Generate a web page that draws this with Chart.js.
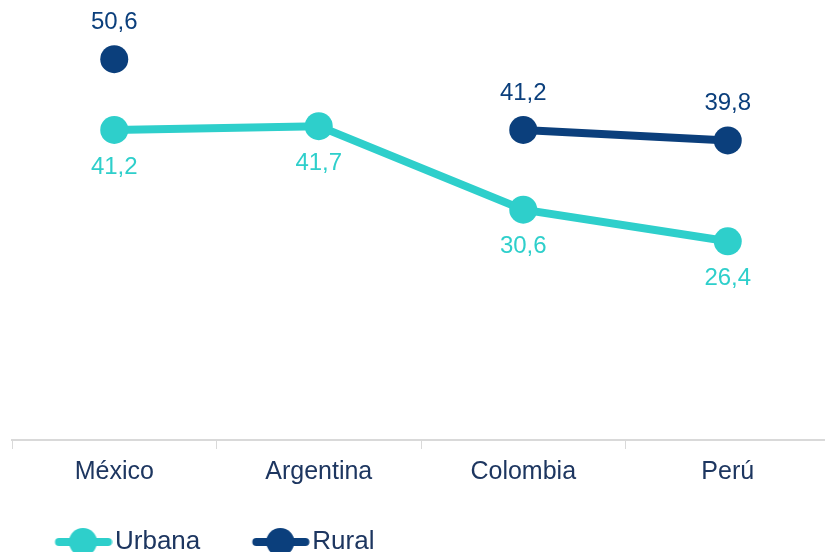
<!DOCTYPE html>
<html>
<head>
<meta charset="utf-8">
<script src="https://cdn.jsdelivr.net/npm/chart.js@4"></script>
<style>
  html, body { margin: 0; padding: 0; background: #fff; overflow: hidden; }
  canvas { display: block; }
</style>
</head>
<body>
<canvas id="grafico" width="830" height="565"></canvas>
<script>
const paises = ['México', 'Argentina', 'Colombia', 'Perú'];
const urbana = [41.2, 41.7, 30.6, 26.4];
const rural = [50.6, null, 41.2, 39.8];

const colUrbana = '#2ecfcb';
const colRural = '#0b3f7c';
const colTexto = '#1d3660';

// legend marker: line with a dot, shifted right inside the image
function marcador(color) {
  const c = document.createElement('canvas');
  c.width = 78;
  c.height = 30;
  const ctx = c.getContext('2d');
  ctx.strokeStyle = color;
  ctx.lineWidth = 8;
  ctx.lineCap = 'round';
  ctx.beginPath();
  ctx.moveTo(24.5, 15);
  ctx.lineTo(73.5, 15);
  ctx.stroke();
  ctx.fillStyle = color;
  ctx.beginPath();
  ctx.arc(48.5, 15, 14, 0, Math.PI * 2);
  ctx.fill();
  return c;
}

// value labels: Rural above the point, Urbana below
const etiquetas = {
  id: 'etiquetas',
  afterDatasetsDraw(chart) {
    const ctx = chart.ctx;
    ctx.save();
    ctx.font = '24px "Liberation Sans", Arial, sans-serif';
    ctx.textAlign = 'center';
    ctx.textBaseline = 'middle';
    chart.data.datasets.forEach((ds, i) => {
      const meta = chart.getDatasetMeta(i);
      meta.data.forEach((pt, j) => {
        const v = ds.data[j];
        if (v === null || v === undefined) return;
        const dy = ds.label === 'Rural' ? -37 : 37;
        ctx.fillStyle = ds.borderColor;
        ctx.fillText(v.toFixed(1).replace('.', ','), pt.x, pt.y + dy);
      });
    });
    ctx.restore();
  }
};

const datos = {
  labels: paises,
  datasets: [
    {
      label: 'Urbana',
      data: urbana,
      borderColor: colUrbana,
      backgroundColor: colUrbana,
      borderWidth: 8,
      pointRadius: 14,
      pointHoverRadius: 14,
      pointBorderWidth: 0,
      pointStyle: 'circle',
      tension: 0,
      clip: false
    },
    {
      label: 'Rural',
      data: rural,
      borderColor: colRural,
      backgroundColor: colRural,
      borderWidth: 8,
      pointRadius: 14,
      pointHoverRadius: 14,
      pointBorderWidth: 0,
      pointStyle: 'circle',
      tension: 0,
      spanGaps: false,
      clip: false
    }
  ]
};

const config = {
  type: 'line',
  data: datos,
  plugins: [etiquetas],
  options: {
    responsive: false,
    animation: false,
    devicePixelRatio: 1,
    layout: { autoPadding: false, padding: { top: 11, left: 3, right: 0, bottom: 0 } },
    scales: {
      x: {
        offset: true,
        grid: {
          offset: true,
          drawOnChartArea: false,
          drawTicks: true,
          tickLength: 9,
          color: '#d9d9d9',
          lineWidth: 1
        },
        border: { color: '#d9d9d9', width: 2 },
        ticks: {
          color: colTexto,
          padding: 8,
          font: { family: '"Liberation Sans", Arial, sans-serif', size: 25 }
        },
        afterFit: s => { s.height = 47; }
      },
      y: {
        min: 0,
        max: 57,
        grid: { display: false },
        border: { display: false },
        ticks: { display: false },
        afterFit: s => { s.width = 9; }
      }
    },
    plugins: {
      legend: {
        position: 'bottom',
        align: 'start',
        labels: {
          usePointStyle: true,
          pointStyleWidth: 57,
          padding: 42,
          color: colTexto,
          font: { family: '"Liberation Sans", Arial, sans-serif', size: 26 },
          generateLabels: chart => chart.data.datasets.map((ds, i) => ({
            text: ds.label,
            pointStyle: marcador(ds.borderColor),
            fillStyle: ds.borderColor,
            strokeStyle: ds.borderColor,
            lineWidth: 0,
            fontColor: colTexto,
            hidden: false,
            datasetIndex: i
          }))
        }
      },
      tooltip: { enabled: false }
    }
  }
};

const grafico = new Chart(document.getElementById('grafico'), config);
</script>
</body>
</html>
